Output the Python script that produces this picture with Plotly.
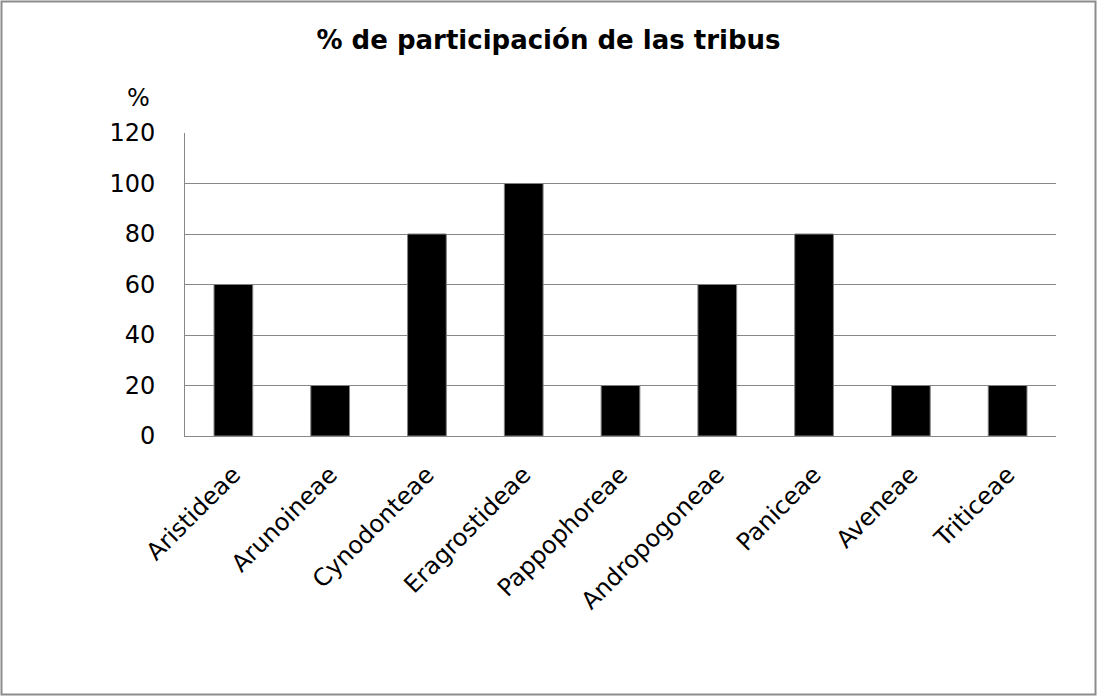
import plotly.graph_objects as go

tribus = ["Aristideae", "Arunoineae", "Cynodonteae", "Eragrostideae", "Pappophoreae",
          "Andropogoneae", "Paniceae", "Aveneae", "Triticeae"]
porcentaje = [60, 20, 80, 100, 20, 60, 80, 20, 20]
y_ticks = [0, 20, 40, 60, 80, 100, 120]

W, H = 1097, 696
L, R, T, B = 185, 41, 133, 260
pw, ph = W - L - R, H - T - B

fig = go.Figure(go.Bar(
    x=tribus, y=porcentaje,
    marker=dict(color="black", line=dict(color="#808080", width=1)),
))

fig.update_layout(
    width=W, height=H,
    paper_bgcolor="white", plot_bgcolor="white",
    font=dict(family="DejaVu Sans", color="black", size=24),
    margin=dict(l=L, r=R, t=T, b=B, autoexpand=False),
    bargap=0.6,
    showlegend=False,
    title=dict(text="<b>% de participación de las tribus</b>", x=0.5, xanchor="center",
               y=1 - 40 / H, yanchor="middle", font=dict(size=26)),
    annotations=[dict(text="%", xref="paper", yref="paper", x=(138 - L) / pw, y=1 + (T - 98) / ph,
                      xanchor="center", yanchor="middle", showarrow=False, font=dict(size=24))],
    shapes=[dict(type="rect", xref="paper", yref="paper",
                 x0=(1.5 - L) / pw, x1=(W - 1.5 - L) / pw,
                 y0=-(H - 1.5 - T - ph) / ph, y1=1 + (T - 1.5) / ph,
                 line=dict(color="#8c8c8c", width=2), layer="below")],
)
fig.update_xaxes(tickangle=-45, showline=True, linecolor="#888888", linewidth=1,
                 ticks="", showgrid=False, tickfont=dict(size=24), ticklabelstandoff=14)
fig.update_yaxes(range=[0, 120], tickvals=y_ticks, showline=True, linecolor="#888888",
                 linewidth=1, gridcolor="#888888", gridwidth=1, ticks="",
                 tickfont=dict(size=24), zeroline=False, ticklabelstandoff=24)

fig.write_html("out.html", config={"displayModeBar": False},
               post_script="document.body.style.margin='0';")
